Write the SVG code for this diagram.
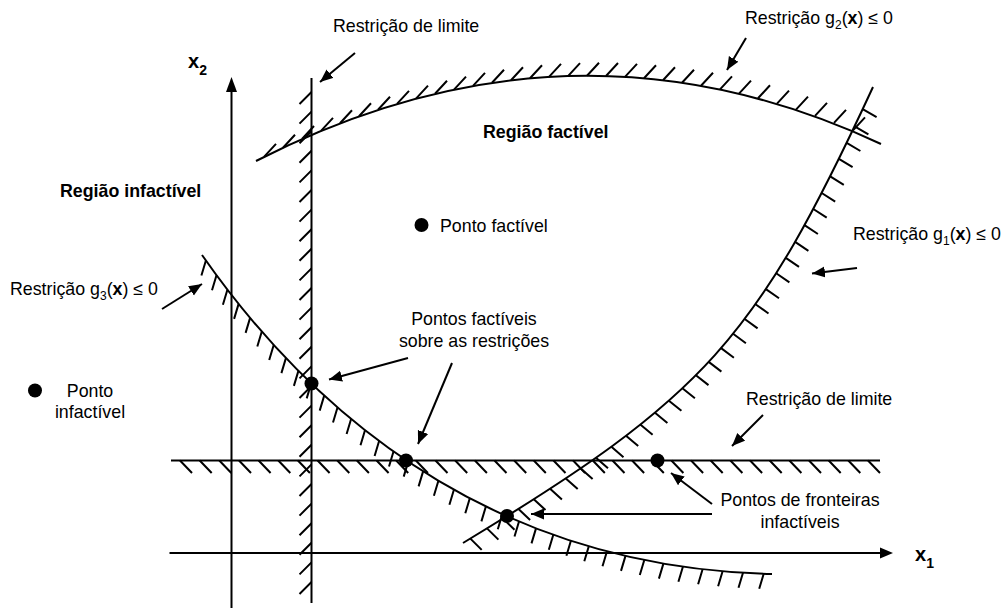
<svg xmlns="http://www.w3.org/2000/svg" width="1007" height="615" viewBox="0 0 1007 615">
<style>
.ln{stroke:#000;stroke-width:2;fill:none}
.ht{stroke:#000;stroke-width:2;fill:none}
.ar{stroke:#000;stroke-width:2;fill:none;marker-end:url(#ah)}
.t{font-family:"Liberation Sans",Arial,sans-serif;font-size:17.8px;fill:#000}
.b{font-weight:bold}
.sub{font-size:12px}
.ax{font-family:"Liberation Sans",Arial,sans-serif;font-size:20px;font-weight:bold;fill:#000}
.axs{font-size:14px}
.pt{fill:#000}
</style>
<defs>
<marker id="ah" markerUnits="userSpaceOnUse" markerWidth="14" markerHeight="12" refX="13" refY="5.5" orient="auto" viewBox="0 0 14 12">
<path d="M0,0 L13,5.5 L0,11 z" fill="#000"/>
</marker>
</defs>
<rect width="1007" height="615" fill="#fff"/>

<g id="axes">
<line class="ln" x1="231.5" y1="608" x2="231.5" y2="90"/>
<polygon points="231.5,77 226,92 237,92" fill="#000"/>
<line class="ln" x1="169.5" y1="553" x2="881" y2="553"/>
<polygon points="893,553 880,547.5 880,558.5" fill="#000"/>
<text class="ax" x="188" y="68">x<tspan class="axs" dy="7">2</tspan></text>
<text class="ax" x="915" y="561">x<tspan class="axs" dy="7">1</tspan></text>
</g>

<g id="limite-vertical">
<line class="ln" x1="311.5" y1="78" x2="311.5" y2="603"/>
<path class="ht" d="M311.5,92l-12,12M311.5,111.6l-12,12M311.5,131.2l-12,12M311.5,150.8l-12,12M311.5,170.4l-12,12M311.5,190l-12,12M311.5,209.6l-12,12M311.5,229.2l-12,12M311.5,248.8l-12,12M311.5,268.4l-12,12M311.5,288l-12,12M311.5,307.6l-12,12M311.5,327.2l-12,12M311.5,346.8l-12,12M311.5,366.4l-12,12M311.5,386l-12,12M311.5,405.6l-12,12M311.5,425.2l-12,12M311.5,444.8l-12,12M311.5,464.4l-12,12M311.5,484l-12,12M311.5,503.6l-12,12M311.5,523.2l-12,12M311.5,542.8l-12,12M311.5,562.4l-12,12M311.5,582l-12,12"/>
</g>

<g id="limite-horizontal">
<line class="ln" x1="171" y1="460.5" x2="880" y2="460.5"/>
<path class="ht" d="M180,460.5l12,12.5M199.7,460.5l12,12.5M219.3,460.5l12,12.5M239,460.5l12,12.5M258.6,460.5l12,12.5M278.3,460.5l12,12.5M297.9,460.5l12,12.5M317.6,460.5l12,12.5M337.3,460.5l12,12.5M356.9,460.5l12,12.5M376.6,460.5l12,12.5M396.2,460.5l12,12.5M415.9,460.5l12,12.5M435.5,460.5l12,12.5M455.2,460.5l12,12.5M474.9,460.5l12,12.5M494.5,460.5l12,12.5M514.2,460.5l12,12.5M533.8,460.5l12,12.5M553.5,460.5l12,12.5M573.1,460.5l12,12.5M592.8,460.5l12,12.5M612.5,460.5l12,12.5M632.1,460.5l12,12.5M651.8,460.5l12,12.5M671.4,460.5l12,12.5M691.1,460.5l12,12.5M710.7,460.5l12,12.5M730.4,460.5l12,12.5M750.1,460.5l12,12.5M769.7,460.5l12,12.5M789.4,460.5l12,12.5M809,460.5l12,12.5M828.7,460.5l12,12.5M848.3,460.5l12,12.5M868,460.5l12,12.5"/>
</g>

<g id="g2">
<path class="ln" d="M256,161 Q571.5,-0.5 881,144"/>
<path class="ht" d="M264,156.9l12,-13M283,147.7l12,-13M302,139l12,-13M321,130.9l12,-13M340,123.3l12,-13M359,116.3l12,-13M378,109.8l12,-13M397,103.9l12,-13M416,98.6l12,-13M435,93.8l12,-13M454,89.6l12,-13M473,85.9l12,-13M492,82.8l12,-13M511,80.3l12,-13M530,78.3l12,-13M549,76.9l12,-13M568,76.1l12,-13M587,75.8l12,-13M606,76l12,-13M625,76.9l12,-13M644,78.2l12,-13M663,80.2l12,-13M682,82.7l12,-13M701,85.7l12,-13M720,89.4l12,-13M739,93.6l12,-13M758,98.3l12,-13M777,103.6l12,-13M796,109.6l12,-13M815,115.9l12,-13M834,122.9l12,-13M853,130.4l12,-13"/>
</g>

<g id="g1">
<path class="ln" d="M463,543 C705,397 756,340 873,87"/>
<path class="ht" d="M470.4,538.6l11.3,11.3M487,528.4l11.4,11.2M503,518.6l11.5,11.1M518.5,508.9l11.6,11M533.8,499.2l11.7,10.9M550.1,488.7l11.8,10.9M565.8,478.4l11.9,10.7M580.7,468.4l11.9,10.6M596,457.7l12,10.6M611.4,446.7l12.1,10.5M626,435.8l12.2,10.3M640.3,424.6l12.3,10.2M655,412.7l12.4,10.2M668.9,400.7l12.5,10M682.4,388.3l12.5,9.9M695.9,375.2l12.6,9.9M708.7,361.9l12.7,9.7M721.1,348.1l12.8,9.6M733.1,333.8l12.8,9.5M744.7,319l12.9,9.4M755.5,304.2l13,9.3M765.9,289.1l13.1,9.2M776.2,273.3l13.2,9.1M785.8,257.8l13.2,9M795.1,241.9l13.3,8.9M804.5,225.2l13.4,8.8M813.3,209l13.4,8.7M821.7,193l13.5,8.6M830.2,176.3l13.6,8.5M838.9,158.9l13.7,8.3M846.7,142.8l13.7,8.2M854.6,126.3l13.8,8.1M862.7,109.1l13.9,8"/>
</g>

<g id="g3">
<path class="ln" d="M202,255 C330,438 515,568 772,574"/>
<path class="ht" d="M205.9,260.5l-4.5,15M216.5,275.2l-4.5,15M227.4,289.7l-4.5,15M238.6,303.9l-4.5,15M250.1,317.9l-4.5,15M261.8,331.5l-4.5,15M273.7,345l-4.5,15M285.9,358.1l-4.5,15M298.4,370.9l-4.5,15M311.2,383.4l-4.5,15M324.2,395.6l-4.5,15M337.5,407.5l-4.5,15M351.1,419l-4.5,15M365,430.2l-4.5,15M379.1,441l-4.5,15M393.5,451.5l-4.5,15M408.2,461.6l-4.5,15M423.1,471.4l-4.5,15M438.4,480.7l-4.5,15M453.9,489.7l-4.5,15M469.8,498.3l-4.5,15M485.9,506.4l-4.5,15M502.3,514.2l-4.5,15M519,521.5l-4.5,15M536,528.4l-4.5,15M553.3,534.8l-4.5,15M570.9,540.8l-4.5,15M588.8,546.3l-4.5,15M607,551.3l-4.5,15M625.5,555.9l-4.5,15M644.3,560l-4.5,15M663.4,563.6l-4.5,15M682.9,566.7l-4.5,15M702.6,569.2l-4.5,15M722.6,571.3l-4.5,15M743,572.8l-4.5,15M763.7,573.8l-4.5,15"/>
</g>

<g id="pontos">
<circle class="pt" cx="421.5" cy="225" r="7"/>
<circle class="pt" cx="35" cy="390.5" r="7"/>
<circle class="pt" cx="311.5" cy="383.5" r="7"/>
<circle class="pt" cx="406" cy="460.5" r="7"/>
<circle class="pt" cx="507" cy="516" r="7"/>
<circle class="pt" cx="657.5" cy="460.5" r="7"/>
</g>

<g id="labels">
<text class="t" x="333" y="32">Restrição de limite</text>
<text class="t" x="745" y="23.5">Restrição g<tspan class="sub" dy="5">2</tspan><tspan dy="-5">(</tspan><tspan class="b">x</tspan>) ≤ 0</text>
<text class="t b" x="483" y="137.5">Região factível</text>
<text class="t b" x="60" y="196.5">Região infactível</text>
<text class="t" x="440" y="231.5">Ponto factível</text>
<text class="t" x="853" y="240">Restrição g<tspan class="sub" dy="5">1</tspan><tspan dy="-5">(</tspan><tspan class="b">x</tspan>) ≤ 0</text>
<text class="t" x="10" y="295">Restrição g<tspan class="sub" dy="5">3</tspan><tspan dy="-5">(</tspan><tspan class="b">x</tspan>) ≤ 0</text>
<text class="t" text-anchor="middle" x="474" y="325">Pontos factíveis</text>
<text class="t" text-anchor="middle" x="474" y="346.5">sobre as restrições</text>
<text class="t" text-anchor="middle" x="90" y="396.5">Ponto</text>
<text class="t" text-anchor="middle" x="90" y="418">infactível</text>
<text class="t" x="746" y="405">Restrição de limite</text>
<text class="t" text-anchor="middle" x="800" y="506">Pontos de fronteiras</text>
<text class="t" text-anchor="middle" x="800" y="528">infactíveis</text>
</g>

<g id="connectors">
<line class="ar" x1="355" y1="53" x2="320" y2="82"/>
<line class="ar" x1="746" y1="38" x2="727" y2="70"/>
<line class="ar" x1="857" y1="268" x2="812" y2="273.5"/>
<line class="ar" x1="162" y1="309" x2="202" y2="284"/>
<line class="ar" x1="408" y1="358" x2="329" y2="379.5"/>
<line class="ar" x1="452" y1="363" x2="418" y2="444"/>
<line class="ar" x1="763" y1="415" x2="732" y2="446"/>
<line class="ar" x1="712" y1="504" x2="671" y2="473"/>
<line class="ar" x1="712" y1="514" x2="531" y2="514"/>
</g>
</svg>
